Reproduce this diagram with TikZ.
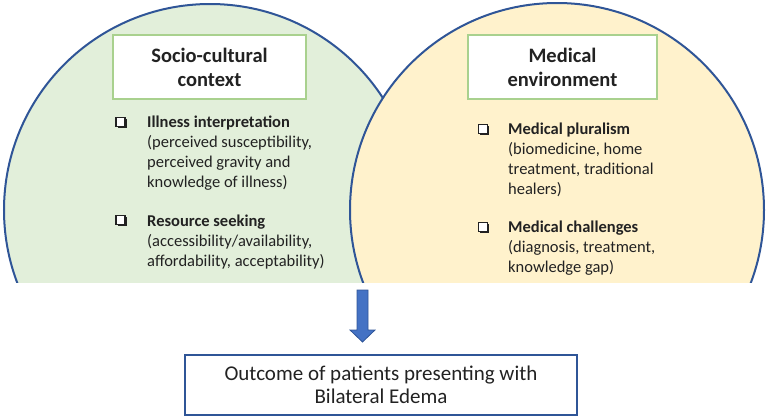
\documentclass[tikz,border=0pt]{standalone}
\usepackage{fontspec}
\usetikzlibrary{shadows}
\setmainfont{Carlito}
\definecolor{cblue}{HTML}{2F5597}
\definecolor{cgreen}{HTML}{E2EFDA}
\definecolor{cyellow}{HTML}{FFF2CC}
\definecolor{boxgreen}{HTML}{A9D18E}
\definecolor{arrowblue}{HTML}{4472C4}
\definecolor{txt}{HTML}{222222}
\begin{document}
\begin{tikzpicture}[x=1pt,y=-1pt,
  titlebox/.style={draw=boxgreen, line width=1.5pt, fill=white, minimum width=193pt, minimum height=64pt, inner sep=0pt, align=center, text=txt, font=\bfseries\fontsize{20.5}{24}\selectfont},
  chk/.style={rectangle, inner sep=0pt, minimum size=9pt, draw=txt, fill=white, line width=1.1pt,
     drop shadow={shadow xshift=1.6pt, shadow yshift=-1.6pt, fill=txt, opacity=1}},
  bul/.style={anchor=north west, inner sep=0pt, align=left, text=txt, font=\fontsize{16.5}{19.8}\selectfont},
  ring/.style={draw=cblue, line width=2pt}]
\useasboundingbox (0,0) rectangle (769,418);
\begin{scope}
\clip (0,0) rectangle (769,282);
\fill[cgreen] (210,210) circle[radius=206pt];
\draw[ring] (210,210) circle[radius=206pt];
\fill[cyellow] (557,210) circle[radius=207pt];
\draw[ring] (557,210) circle[radius=207pt];
\end{scope}
\node[titlebox] (t1) at (209.5,67) {Socio-cultural\\context};
\node[titlebox, minimum width=189pt] (t2) at (562.5,67) {Medical\\environment};

\node[chk] (c1) at (120.5,122) {};
\node[bul] (b1) at (147,116) {\textbf{Illness interpretation}\\(perceived susceptibility,\\perceived gravity and\\knowledge of illness)};
\node[chk] (c2) at (120.5,220) {};
\node[bul] (b2) at (147,215) {\textbf{Resource seeking}\\(accessibility/availability,\\affordability, acceptability)};

\node[chk] (c3) at (483,129) {};
\node[bul] (b3) at (508,123) {\textbf{Medical pluralism}\\(biomedicine, home\\treatment, traditional\\healers)};
\node[chk] (c4) at (483,227) {};
\node[bul] (b4) at (508,221) {\textbf{Medical challenges}\\(diagnosis, treatment,\\knowledge gap)};

\node[draw=cblue, line width=2pt, minimum width=392pt, minimum height=60pt, inner sep=0pt, align=center, text=txt, font=\fontsize{21}{23}\selectfont] (out) at (381,385) {Outcome of patients presenting with\\Bilateral Edema};

\coordinate (as) at (362.5,290);
\fill[arrowblue, draw=cblue, line width=0.8pt] ([xshift=-5.5pt]as) -- ([xshift=5.5pt]as) -- ([xshift=5.5pt,yshift=-40pt]as) -- ([xshift=12.5pt,yshift=-40pt]as) -- ([yshift=-52pt]as) -- ([xshift=-12.5pt,yshift=-40pt]as) -- ([xshift=-5.5pt,yshift=-40pt]as) -- cycle;
\end{tikzpicture}
\end{document}
